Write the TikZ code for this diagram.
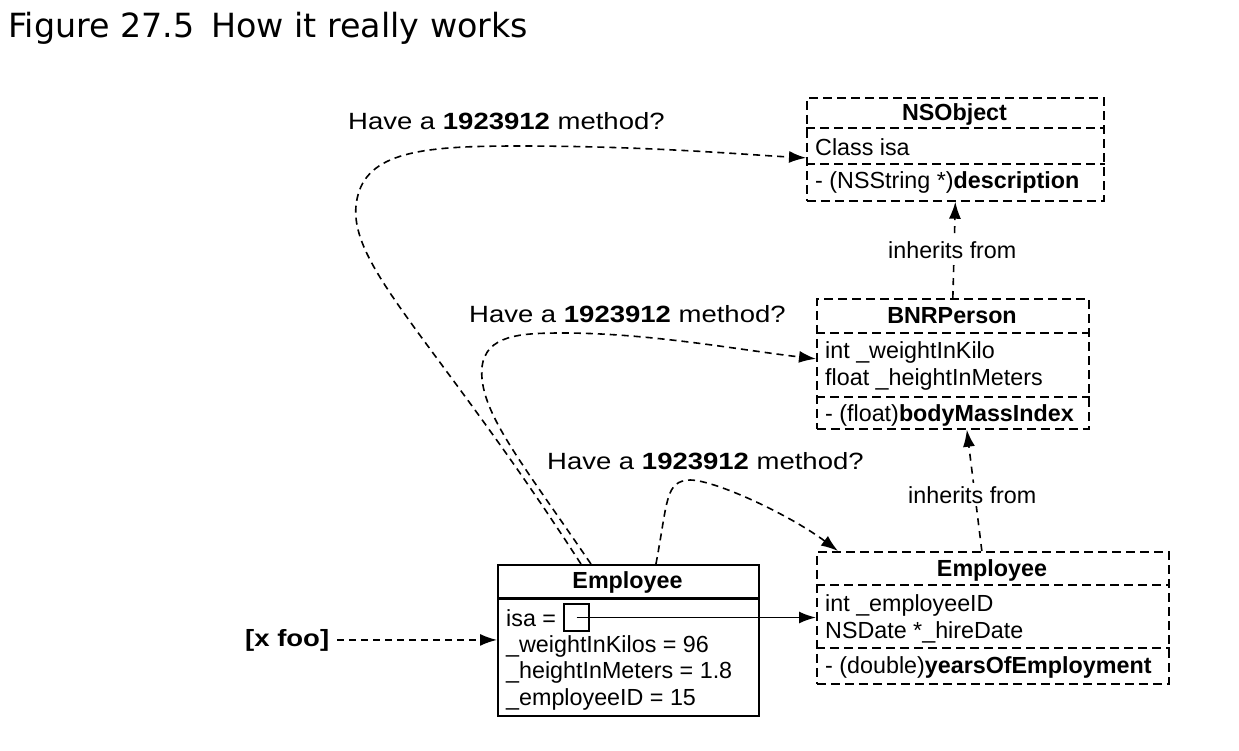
\documentclass[tikz,border=0pt]{standalone}
\usepackage{fontspec}
\setmainfont{Liberation Sans}
\newfontfamily\lblfont[FakeStretch=1.17]{Liberation Sans}
\newfontfamily\ttlfont{DejaVu Sans}
\usetikzlibrary{arrows.meta,calc}
\begin{document}
\begin{tikzpicture}[x=1pt,y=-1pt,
  dbox/.style={draw, line width=1.7pt, dash pattern=on 9pt off 5pt, inner sep=0pt, anchor=north west},
  sbox/.style={draw, line width=1.9pt, inner sep=0pt, anchor=north west},
  dline/.style={line width=1.7pt, dash pattern=on 9pt off 5pt},
  txt/.style={inner sep=0pt, anchor=base west, font=\fontsize{23.3}{27}\selectfont},
  hdr/.style={inner sep=0pt, anchor=base, font=\fontsize{23.3}{27}\selectfont\bfseries},
  lbl/.style={inner sep=0pt, anchor=base west, font=\lblfont\fontsize{23.5}{27}\selectfont},
  conn/.style={line width=1.6pt, dash pattern=on 7pt off 5pt, -{Latex[length=17pt,width=12pt]}},
  inh/.style={line width=1.6pt, dash pattern=on 7pt off 6pt, -{Latex[length=17pt,width=12pt]}},
  solidarr/.style={line width=1.8pt, -{Latex[length=17pt,width=12pt]}}
]
\useasboundingbox (0,0) rectangle (1239,750);

% title
\node[inner sep=0pt, anchor=base west, font=\ttlfont\fontsize{33.3}{38}\selectfont] (title) at (8,37) {Figure 27.5\hspace{0.5em}How it really works};

% NSObject class
\node[dbox, minimum width=297pt, minimum height=103pt] (nsobj) at (806,97) {};
\draw[dline] (nsobj.west |- 0,128) -- (nsobj.east |- 0,128);
\draw[dline] (nsobj.west |- 0,164) -- (nsobj.east |- 0,164);
\node[hdr] (nsobj-h) at (954.5,120) {NSObject};
\node[txt] (nsobj-a) at (815,155) {Class isa};
\node[txt] (nsobj-m) at (815,188) {- (NSString *)\textbf{description}};

% BNRPerson class
\node[dbox, minimum width=272pt, minimum height=130pt] (bnr) at (816,298) {};
\draw[dline] (bnr.west |- 0,333) -- (bnr.east |- 0,333);
\draw[dline] (bnr.west |- 0,397) -- (bnr.east |- 0,397);
\node[hdr] (bnr-h) at (952,323) {BNRPerson};
\node[txt] (bnr-a) at (825,358) {int \_weightInKilo};
\node[txt] (bnr-b) at (825,385) {float \_heightInMeters};
\node[txt] (bnr-m) at (825,421) {- (float)\textbf{bodyMassIndex}};

% Employee class
\node[dbox, minimum width=352pt, minimum height=132pt] (empc) at (816,551) {};
\draw[dline] (empc.west |- 0,585) -- (empc.east |- 0,585);
\draw[dline] (empc.west |- 0,648) -- (empc.east |- 0,648);
\node[hdr] (empc-h) at (992,576) {Employee};
\node[txt] (empc-a) at (825,611) {int \_employeeID};
\node[txt] (empc-b) at (825,638) {NSDate *\_hireDate};
\node[txt] (empc-m) at (825,673) {- (double)\textbf{yearsOfEmployment}};

% Employee instance
\node[sbox, minimum width=261pt, minimum height=151pt] (inst) at (497,564) {};
\draw[line width=3pt] (inst.west |- 0,598) -- (inst.east |- 0,598);
\node[hdr] (inst-h) at (627.5,588) {Employee};
\node[txt] (inst-a) at (506,626) {isa =};
\node[draw, line width=1.7pt, minimum width=25pt, minimum height=27pt, inner sep=0pt] (isabox) at (576.5,617.5) {};
\node[txt] (inst-b) at (506,652) {\_weightInKilos = 96};
\node[txt] (inst-c) at (506,678) {\_heightInMeters = 1.8};
\node[txt] (inst-d) at (506,705) {\_employeeID = 15};

% isa pointer
\draw[solidarr] (isabox.center) -- (isabox.center -| empc.west);

% message
\node[lbl, font=\lblfont\fontsize{23.5}{27}\selectfont\bfseries] (xfoo) at (245,646) {[x foo]};
\draw[conn] ([xshift=8pt]xfoo.east) -- (xfoo.east -| inst.west);

% inheritance
\draw[inh] (bnr.north) -- (nsobj.south);
\node[txt, fill=white, inner sep=3pt] (inh1) at (885,258) {inherits from};
\draw[inh] ([xshift=-11pt]empc.north) -- ([xshift=14pt]bnr.south);
\node[txt, fill=white, inner sep=3pt] (inh2) at (905,503) {inherits from};

% lookups
\node[lbl] (q1) at (348,129) {Have a \textbf{1923912} method?};
\node[lbl] (q2) at (469,322) {Have a \textbf{1923912} method?};
\node[lbl] (q3) at (547,469) {Have a \textbf{1923912} method?};

\draw[conn] ([xshift=-47.5pt]inst.north) .. controls (430,330) and (340,260) .. (358,195)
  .. controls (370,150) and (430,146) .. (520,146)
  .. controls (650,146) and (750,155) .. ([yshift=-8.5pt]nsobj.west);
\draw[conn] ([xshift=-37.5pt]inst.north) .. controls (520,460) and (478,410) .. (482,367)
  .. controls (486,335) and (520,333) .. (563,333)
  .. controls (650,333) and (740,350) .. ([yshift=5pt]bnr.west);
\draw[conn] ([xshift=27.5pt]inst.north) .. controls (668,500) and (665,481) .. (690,480)
  .. controls (715,480) and (790,515) .. ([xshift=22pt]empc.north west);
\end{tikzpicture}
\end{document}
